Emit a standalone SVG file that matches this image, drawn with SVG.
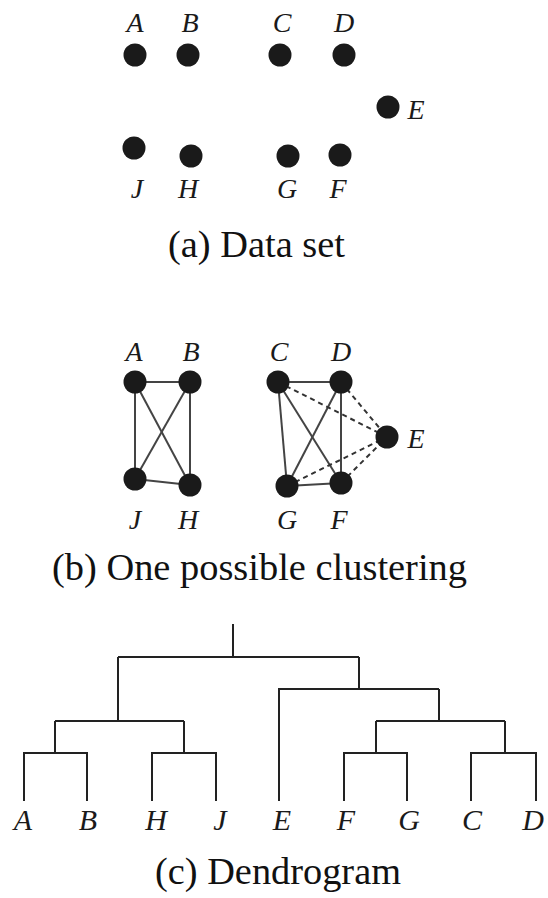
<svg xmlns="http://www.w3.org/2000/svg" width="548" height="898" viewBox="0 0 548 898">
  <style>
    .pt { fill: #1a1a1a; }
    .lbl { font-family: "Liberation Serif", "Times New Roman", serif; font-style: italic; font-size: 28px; fill: #1a1a1a; text-anchor: middle; }
    .dlbl { font-family: "Liberation Serif", "Times New Roman", serif; font-style: italic; font-size: 30px; fill: #1a1a1a; text-anchor: middle; }
    .cap { font-family: "Liberation Serif", "Times New Roman", serif; font-size: 37px; fill: #111; }
    .edge { stroke: #444; stroke-width: 2; fill: none; }
    .dash { stroke: #333; stroke-width: 2; stroke-dasharray: 5 4; fill: none; }
    .tree { stroke: #222; stroke-width: 2; fill: none; }
  </style>
  <rect width="548" height="898" fill="#fff"/>

  <!-- (a) data set -->
  <g id="a-points">
    <g id="a-A"><circle class="pt" cx="135" cy="55" r="11.5"/><text class="lbl" x="135" y="32">A</text></g>
    <g id="a-B"><circle class="pt" cx="188" cy="55" r="11.5"/><text class="lbl" x="190" y="32">B</text></g>
    <g id="a-C"><circle class="pt" cx="280" cy="55" r="11.5"/><text class="lbl" x="282" y="32">C</text></g>
    <g id="a-D"><circle class="pt" cx="344" cy="55" r="11.5"/><text class="lbl" x="344" y="32">D</text></g>
    <g id="a-E"><circle class="pt" cx="388" cy="107" r="11.5"/><text class="lbl" x="416" y="119">E</text></g>
    <g id="a-J"><circle class="pt" cx="134" cy="148" r="11.5"/><text class="lbl" x="137" y="198">J</text></g>
    <g id="a-H"><circle class="pt" cx="191" cy="156" r="11.5"/><text class="lbl" x="188" y="198">H</text></g>
    <g id="a-G"><circle class="pt" cx="288" cy="156" r="11.5"/><text class="lbl" x="287" y="198">G</text></g>
    <g id="a-F"><circle class="pt" cx="340" cy="155" r="11.5"/><text class="lbl" x="338" y="198">F</text></g>
  </g>
  <text class="cap" x="168" y="257" textLength="177" lengthAdjust="spacingAndGlyphs">(a) Data set</text>

  <!-- (b) clustering -->
  <g id="b-connectors">
    <line class="edge" x1="135" y1="382" x2="190" y2="382"/>
    <line class="edge" x1="135" y1="382" x2="135" y2="479"/>
    <line class="edge" x1="135" y1="382" x2="190" y2="485"/>
    <line class="edge" x1="190" y1="382" x2="135" y2="479"/>
    <line class="edge" x1="190" y1="382" x2="190" y2="485"/>
    <line class="edge" x1="135" y1="479" x2="190" y2="485"/>
    <line class="edge" x1="278" y1="382" x2="341" y2="382"/>
    <line class="edge" x1="278" y1="382" x2="287" y2="486"/>
    <line class="edge" x1="278" y1="382" x2="341" y2="483"/>
    <line class="edge" x1="341" y1="382" x2="287" y2="486"/>
    <line class="edge" x1="341" y1="382" x2="341" y2="483"/>
    <line class="edge" x1="287" y1="486" x2="341" y2="483"/>
    <line class="dash" x1="278" y1="382" x2="387" y2="437"/>
    <line class="dash" x1="341" y1="382" x2="387" y2="437"/>
    <line class="dash" x1="287" y1="486" x2="387" y2="437"/>
    <line class="dash" x1="341" y1="483" x2="387" y2="437"/>
  </g>
  <g id="b-A"><circle class="pt" cx="135" cy="382" r="11.5"/><text class="lbl" x="134" y="361">A</text></g>
  <g id="b-B"><circle class="pt" cx="190" cy="382" r="11.5"/><text class="lbl" x="191" y="361">B</text></g>
  <g id="b-C"><circle class="pt" cx="278" cy="382" r="11.5"/><text class="lbl" x="279" y="361">C</text></g>
  <g id="b-D"><circle class="pt" cx="341" cy="382" r="11.5"/><text class="lbl" x="341" y="361">D</text></g>
  <g id="b-E"><circle class="pt" cx="387" cy="437" r="11.5"/><text class="lbl" x="416" y="448">E</text></g>
  <g id="b-J"><circle class="pt" cx="135" cy="479" r="11.5"/><text class="lbl" x="135" y="529">J</text></g>
  <g id="b-H"><circle class="pt" cx="190" cy="485" r="11.5"/><text class="lbl" x="188" y="529">H</text></g>
  <g id="b-G"><circle class="pt" cx="287" cy="486" r="11.5"/><text class="lbl" x="287" y="529">G</text></g>
  <g id="b-F"><circle class="pt" cx="341" cy="483" r="11.5"/><text class="lbl" x="339" y="529">F</text></g>
  <text class="cap" x="52" y="580" textLength="415" lengthAdjust="spacingAndGlyphs">(b) One possible clustering</text>

  <!-- (c) dendrogram -->
  <g id="c-tree">
    <path class="tree" d="M24 801 V753 H87 V801 M55 753 V721"/>
    <path class="tree" d="M152 801 V753 H216 V801 M184 753 V721"/>
    <path class="tree" d="M55 721 H184 M118 721 V657"/>
    <path class="tree" d="M344 801 V753 H407 V801 M376 753 V721"/>
    <path class="tree" d="M471 801 V753 H536 V801 M505 753 V721"/>
    <path class="tree" d="M376 721 H505 M439 721 V689"/>
    <path class="tree" d="M279 801 V689 H439 M359 689 V657"/>
    <path class="tree" d="M118 657 H359 M233 657 V624"/>
  </g>
  <g id="c-labels">
    <text class="dlbl" x="23" y="830">A</text>
    <text class="dlbl" x="88" y="830">B</text>
    <text class="dlbl" x="156" y="830">H</text>
    <text class="dlbl" x="220" y="830">J</text>
    <text class="dlbl" x="282" y="830">E</text>
    <text class="dlbl" x="346" y="830">F</text>
    <text class="dlbl" x="409" y="830">G</text>
    <text class="dlbl" x="472" y="830">C</text>
    <text class="dlbl" x="533" y="830">D</text>
  </g>
  <text class="cap" x="155" y="884" textLength="246" lengthAdjust="spacingAndGlyphs">(c) Dendrogram</text>
</svg>
